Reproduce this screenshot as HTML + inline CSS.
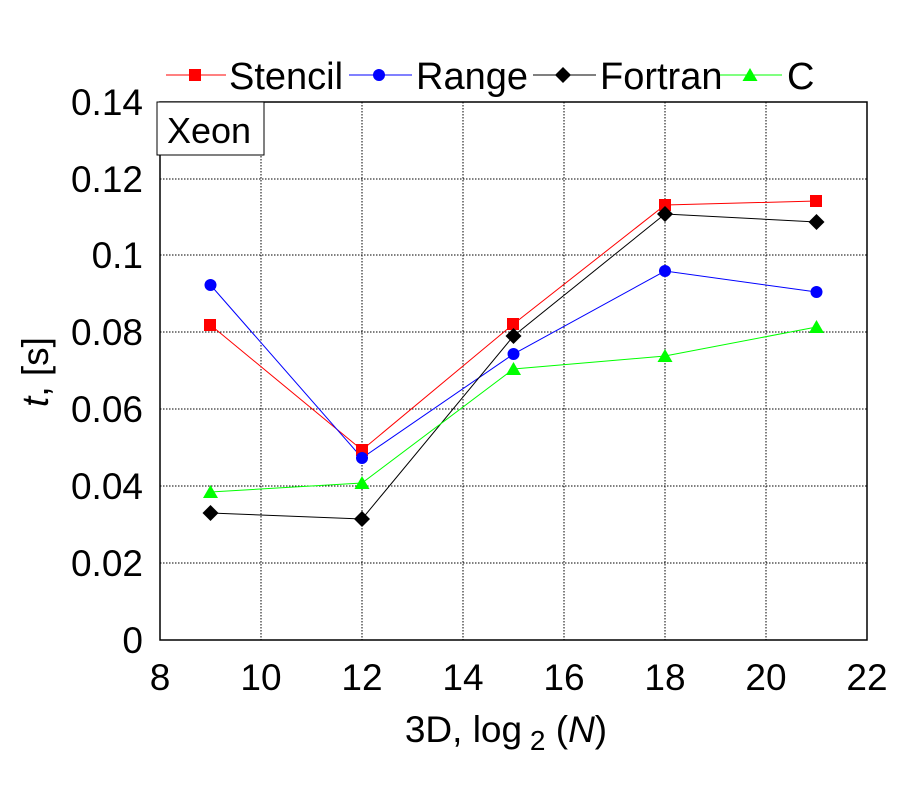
<!DOCTYPE html>
<html><head><meta charset="utf-8"><style>
html,body{margin:0;padding:0;background:#fff;}
svg{display:block;font-family:"Liberation Sans",sans-serif;}
</style></head><body>
<svg width="900" height="800" viewBox="0 0 900 800" xmlns="http://www.w3.org/2000/svg">
<g stroke="#000" stroke-width="1" stroke-dasharray="1.5,1.5">
<line x1="261" y1="102" x2="261" y2="640"/><line x1="362" y1="102" x2="362" y2="640"/>
<line x1="463" y1="102" x2="463" y2="640"/><line x1="564" y1="102" x2="564" y2="640"/>
<line x1="665" y1="102" x2="665" y2="640"/><line x1="766" y1="102" x2="766" y2="640"/>
<line x1="160" y1="563" x2="867" y2="563"/><line x1="160" y1="486" x2="867" y2="486"/>
<line x1="160" y1="409" x2="867" y2="409"/><line x1="160" y1="332" x2="867" y2="332"/>
<line x1="160" y1="255" x2="867" y2="255"/><line x1="160" y1="179" x2="867" y2="179"/>
</g>
<rect x="160" y="102" width="707" height="538" fill="none" stroke="#000" stroke-width="1.5"/>
<rect x="157" y="102" width="107" height="53" fill="#fff" stroke="#000" stroke-width="1"/>
<text x="167" y="143" font-size="36">Xeon</text>
<g font-size="37" text-anchor="end">
<text x="143" y="653">0</text><text x="143" y="576">0.02</text><text x="143" y="499">0.04</text>
<text x="143" y="422">0.06</text><text x="143" y="345">0.08</text><text x="143" y="268">0.1</text>
<text x="143" y="192">0.12</text><text x="143" y="115">0.14</text>
</g>
<g font-size="37" text-anchor="middle">
<text x="160" y="690">8</text><text x="261" y="690">10</text><text x="362" y="690">12</text>
<text x="463" y="690">14</text><text x="564" y="690">16</text><text x="665" y="690">18</text>
<text x="766" y="690">20</text><text x="867" y="690">22</text>
</g>
<text x="506" y="742" font-size="37" text-anchor="middle">3D, log<tspan font-size="28" dy="8"> 2</tspan><tspan dy="-8"> (</tspan><tspan font-style="italic">N</tspan>)</text>
<text transform="translate(48,372) rotate(-90)" font-size="37" text-anchor="middle"><tspan font-style="italic">t</tspan>, [s]</text>
<polyline points="210.5,325 362,450 513.5,324 665,205 816.5,201" fill="none" stroke="#f00" stroke-width="1"/>
<polyline points="210.5,285 362,458 513.5,354 665,271 816.5,292" fill="none" stroke="#00f" stroke-width="1"/>
<polyline points="210.5,513 362,519 513.5,336 665,214 816.5,222" fill="none" stroke="#000" stroke-width="1"/>
<polyline points="210.5,492 362,483 513.5,369 665,356 816.5,327" fill="none" stroke="#0f0" stroke-width="1"/>
<g fill="#f00"><rect x="204" y="319" width="12" height="12"/><rect x="356" y="444" width="12" height="12"/><rect x="507" y="318" width="12" height="12"/><rect x="659" y="199" width="12" height="12"/><rect x="810" y="195" width="12" height="12"/></g>
<g fill="#00f"><circle cx="210.5" cy="285" r="6"/><circle cx="362" cy="458" r="6"/><circle cx="513.5" cy="354" r="6"/><circle cx="665" cy="271" r="6"/><circle cx="816.5" cy="292" r="6"/></g>
<g fill="#000">
<polygon points="210.5,505 218.5,513 210.5,521 202.5,513"/><polygon points="362,511 370,519 362,527 354,519"/>
<polygon points="513.5,328 521.5,336 513.5,344 505.5,336"/><polygon points="665,206 673,214 665,222 657,214"/>
<polygon points="816.5,214 824.5,222 816.5,230 808.5,222"/></g>
<g fill="#0f0">
<polygon points="210.5,485 218,498 203,498"/><polygon points="362,476 369.5,489 354.5,489"/>
<polygon points="513.5,362 521,375 506,375"/><polygon points="665,349 672.5,362 657.5,362"/>
<polygon points="816.5,320 824,333 809,333"/></g>
<line x1="166" y1="75" x2="226" y2="75" stroke="#f00"/><rect x="189" y="69" width="12" height="12" fill="#f00"/>
<text x="229" y="89" font-size="38">Stencil</text>
<line x1="349" y1="75" x2="412" y2="75" stroke="#00f"/><circle cx="379" cy="75" r="6" fill="#00f"/>
<text x="416" y="89" font-size="38">Range</text>
<line x1="533" y1="75" x2="596" y2="75" stroke="#000"/><polygon points="563,67 571,75 563,83 555,75" fill="#000"/>
<text x="600" y="89" font-size="38">Fortran</text>
<line x1="720" y1="75" x2="782" y2="75" stroke="#0f0"/><polygon points="750,68 757.5,81 742.5,81" fill="#0f0"/>
<text x="787" y="89" font-size="38">C</text>
</svg>
</body></html>
